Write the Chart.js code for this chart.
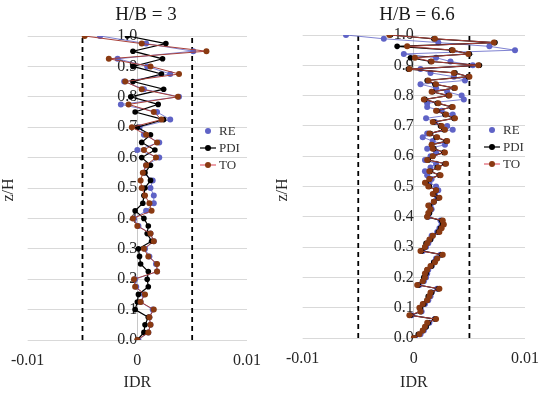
<!DOCTYPE html>
<html><head><meta charset="utf-8">
<script src="https://cdn.jsdelivr.net/npm/chart.js@4.4.1/dist/chart.umd.min.js"></script>
<style>
html,body{margin:0;padding:0;background:#fff;width:550px;height:395px;overflow:hidden}
canvas{position:absolute;top:0}
</style></head>
<body>
<canvas id="c1" width="275" height="395" style="left:0"></canvas>
<canvas id="c2" width="275" height="395" style="left:275px"></canvas>
<script>
const panelTitles = ['H/B = 3', 'H/B = 6.6'];
const seriesNames = ['RE', 'PDI', 'TO'];
const xTickLabels = ['-0.01', '0', '0.01'];
const yTickLabels = ['0.0','0.1','0.2','0.3','0.4','0.5','0.6','0.7','0.8','0.9','1.0'];
const xAxisTitle = 'IDR';
const yAxisTitle = 'z/H';
const limitLines = [-0.005, 0.005];

// H/B = 3 : storey levels z/H and IDR of each series
const zLeft = [0,0.025,0.05,0.075,0.1,0.125,0.15,0.175,0.2,0.225,0.25,0.275,0.3,0.325,0.35,0.375,0.4,0.425,0.45,0.475,0.5,0.525,0.55,0.575,0.6,0.625,0.65,0.675,0.7,0.725,0.75,0.775,0.8,0.825,0.85,0.875,0.9,0.925,0.95,0.975,1.0];
const reLeft = [0.0001,0.0010,0.0012,0.0011,0.0014,0.0003,0.0006,-0.0001,-0.0002,0.0018,0.0017,0.0011,0.0007,0.0015,0.0012,0.0001,-0.0003,0.0008,0.0015,0.0015,0.0012,0.0014,0.0006,0.0008,0.0020,0.0000,0.0020,0.0006,0.0002,0.0030,0.0018,-0.0015,0.0038,0.0006,-0.0012,0.0030,0.0009,-0.0018,0.0051,0.0008,-0.0034];
const pdiLeft = [0.0000,0.0006,0.0007,0.0010,-0.0002,0.0000,0.0001,0.0010,0.0009,0.0010,0.0003,0.0002,0.0001,0.0013,0.0009,0.0010,0.0006,-0.0002,0.0005,0.0006,0.0007,0.0012,0.0007,0.0012,0.0004,0.0016,0.0004,0.0012,0.0000,0.0024,-0.0002,0.0019,-0.0006,0.0024,-0.0004,0.0022,-0.0004,0.0023,-0.0004,0.0026,-0.0009];
const toLeft = [0.0000,0.0010,0.0012,0.0011,0.0015,0.0003,0.0007,-0.0002,-0.0003,0.0018,0.0018,0.0010,0.0006,0.0015,0.0012,0.0000,-0.0004,0.0013,0.0011,0.0007,0.0004,0.0003,0.0005,0.0008,0.0017,0.0006,0.0018,0.0008,-0.0005,0.0022,0.0015,-0.0008,0.0037,0.0004,-0.0011,0.0038,0.0012,-0.0026,0.0063,0.0004,-0.0048];

// H/B = 6.6
const zRight = [0,0.0125,0.025,0.0375,0.05,0.0625,0.075,0.0875,0.1,0.1125,0.125,0.1375,0.15,0.1625,0.175,0.1875,0.2,0.2125,0.225,0.2375,0.25,0.2625,0.275,0.2875,0.3,0.3125,0.325,0.3375,0.35,0.3625,0.375,0.3875,0.4,0.4125,0.425,0.4375,0.45,0.4625,0.475,0.4875,0.5,0.5125,0.525,0.5375,0.55,0.5625,0.575,0.5875,0.6,0.6125,0.625,0.6375,0.65,0.6625,0.675,0.6875,0.7,0.7125,0.725,0.7375,0.75,0.7625,0.775,0.7875,0.8,0.8125,0.825,0.8375,0.85,0.8625,0.875,0.8875,0.9,0.9125,0.925,0.9375,0.95,0.9625,0.975,0.9875,1.0];
const reRight = [0.0001,0.0006,0.0009,0.0011,0.0014,0.0019,-0.0002,0.0007,0.0006,0.0010,
 0.0013,0.0015,0.0016,0.0021,0.0005,0.0009,0.0011,0.0012,0.0013,0.0016,
 0.0018,0.0020,0.0024,0.0008,0.0011,0.0013,0.0015,0.0016,0.0021,0.0023,
 0.0025,0.0024,0.0013,0.0014,0.0016,0.0015,0.0018,0.0021,0.0019,0.0022,
 0.0020,0.0014,0.0016,0.0012,0.0010,0.0015,0.0020,0.0010,0.0015,0.0020,
 0.0012,0.0028,0.0017,0.0008,0.0012,0.0035,0.0030,0.0019,0.0011,0.0035,
 0.0025,0.0012,0.0012,0.0045,0.0043,0.0030,0.0020,0.0006,0.0046,0.0036,
 0.0015,0.0006,0.0053,0.0033,0.0020,-0.0009,0.0091,0.0068,0.0022,-0.0027,
 -0.0061];
const pdiRight = [0.0000,0.0004,0.0008,0.0011,0.0013,0.0019,-0.0003,0.0006,0.0006,0.0009,
 0.0012,0.0013,0.0016,0.0022,0.0004,0.0008,0.0009,0.0011,0.0012,0.0016,
 0.0018,0.0021,0.0025,0.0007,0.0010,0.0011,0.0015,0.0017,0.0022,0.0024,
 0.0026,0.0025,0.0012,0.0014,0.0015,0.0014,0.0018,0.0022,0.0018,0.0020,
 0.0014,0.0011,0.0014,0.0023,0.0015,0.0021,0.0028,0.0013,0.0017,0.0027,
 0.0018,0.0016,0.0029,0.0020,0.0015,0.0027,0.0024,0.0018,0.0036,0.0028,
 0.0021,0.0034,0.0021,0.0010,0.0031,0.0017,0.0036,0.0019,0.0012,0.0049,
 0.0037,-0.0005,0.0059,0.0015,-0.0003,0.0050,0.0034,-0.0015,0.0073,0.0018,
 -0.0021];
const toRight = [0.0000,0.0005,0.0008,0.0010,0.0012,0.0020,-0.0004,0.0006,0.0005,0.0008,
 0.0012,0.0014,0.0015,0.0023,0.0003,0.0008,0.0010,0.0010,0.0012,0.0015,
 0.0019,0.0021,0.0026,0.0006,0.0010,0.0012,0.0014,0.0017,0.0023,0.0025,
 0.0027,0.0026,0.0012,0.0013,0.0015,0.0013,0.0018,0.0023,0.0017,0.0020,
 0.0013,0.0010,0.0014,0.0024,0.0014,0.0022,0.0029,0.0012,0.0017,0.0028,
 0.0017,0.0016,0.0030,0.0021,0.0014,0.0028,0.0025,0.0017,0.0037,0.0029,
 0.0020,0.0035,0.0022,0.0009,0.0032,0.0016,0.0037,0.0020,0.0013,0.0050,
 0.0036,-0.0004,0.0058,0.0016,0.0001,0.0049,0.0035,-0.0006,0.0072,0.0019,
 -0.0022];

const FONT = '"Liberation Serif", "Times New Roman", serif';
const COL_RE = '#5f63c6', COL_PDI = '#000000', COL_TO_PT = '#8a3a12', COL_TO_LN = '#a8403a';

function pts(xs, zs) {
  const n = Math.min(xs.length, zs.length);
  const out = [];
  for (let i = 0; i < n; i++) out.push({x: xs[i], y: zs[i]});
  return out;
}

function annot(lay) {
  return {
    id: 'annot',
    afterDraw(chart) {
      const ctx = chart.ctx;
      ctx.save();
      ctx.fillStyle = '#1a1a1a';
      ctx.font = '19px ' + FONT;
      ctx.textAlign = 'center';
      ctx.textBaseline = 'middle';
      ctx.fillText(lay.title, lay.titleX, 15);
      ctx.save();
      ctx.translate(lay.zhX, 190);
      ctx.rotate(-Math.PI / 2);
      ctx.font = '16px ' + FONT;
      ctx.fillStyle = '#262626';
      ctx.fillText(yAxisTitle, 0, 0);
      ctx.restore();
      // legend
      const items = [
        {name: seriesNames[0], line: null, pt: COL_RE},
        {name: seriesNames[1], line: COL_PDI, pt: COL_PDI},
        {name: seriesNames[2], line: '#e0606e', pt: COL_TO_PT}
      ];
      ctx.font = '13px ' + FONT;
      ctx.textAlign = 'left';
      items.forEach((it, i) => {
        const y = lay.legY + i * 17;
        if (it.line) {
          ctx.strokeStyle = it.line; ctx.lineWidth = 1.2;
          ctx.beginPath(); ctx.moveTo(lay.legX, y); ctx.lineTo(lay.legX + 16, y); ctx.stroke();
        }
        ctx.fillStyle = it.pt;
        ctx.beginPath(); ctx.arc(lay.legX + 8, y, 3, 0, Math.PI * 2); ctx.fill();
        ctx.fillStyle = '#333333';
        ctx.fillText(it.name, lay.legX + 19, y + 1);
      });
      ctx.restore();
    }
  };
}

function makeChart(id, z, re, pdi, to, lay) {
  const datasets = [];
  limitLines.forEach(v => datasets.push({
    data: [{x: v, y: 0}, {x: v, y: 1}], showLine: true, borderColor: '#000', borderWidth: 1.8,
    borderDash: [5, 4], pointRadius: 0, order: 10
  }));
  datasets.push({data: pts(re, z), showLine: true, borderColor: 'rgba(95,99,198,0.8)', borderWidth: 1,
    pointRadius: 3, pointBackgroundColor: COL_RE, pointBorderWidth: 0, order: 3});
  datasets.push({data: pts(pdi, z), showLine: true, borderColor: COL_PDI, borderWidth: 1.2,
    pointRadius: 2.8, pointBackgroundColor: COL_PDI, pointBorderWidth: 0, order: 2});
  datasets.push({data: pts(to, z), showLine: true, borderColor: COL_TO_LN, borderWidth: 1,
    pointRadius: 3, pointBackgroundColor: COL_TO_PT, pointBorderWidth: 0, order: 1});

  return new Chart(document.getElementById(id), {
    type: 'scatter',
    data: {datasets},
    options: {
      responsive: false, animation: false, devicePixelRatio: 1,
      layout: {padding: {left: lay.left, right: lay.right, top: lay.top, bottom: 0}},
      plugins: {legend: {display: false}, tooltip: {enabled: false}, title: {display: false}},
      elements: {line: {tension: 0}},
      scales: {
        x: {
          type: 'linear', min: -0.01, max: 0.01,
          afterFit: s => { s.height = lay.xh; },
          ticks: {stepSize: 0.01, padding: 11, color: '#262626', font: {family: FONT, size: 16},
            callback: (v, i) => xTickLabels[i], maxRotation: 0},
          grid: {display: false, drawTicks: false},
          border: {display: false},
          title: {display: true, text: xAxisTitle, color: '#262626', font: {family: FONT, size: 16},
            padding: {top: 0, bottom: 3}}
        },
        y: {
          type: 'linear', min: 0, max: 1, position: {x: 0},
          ticks: {stepSize: 0.1, padding: 14, color: '#262626', font: {family: FONT, size: 16},
            callback: (v, i) => yTickLabels[i]},
          grid: {color: '#d9d9d9', lineWidth: 1, drawTicks: false},
          border: {display: true, color: '#c8c8c8', width: 1}
        }
      }
    },
    plugins: [annot(lay)]
  });
}

makeChart('c1', zLeft, reLeft, pdiLeft, toLeft,
  {left: 27, right: 28, top: 36, xh: 55, title: panelTitles[0], titleX: 146, zhX: 9, legX: 200, legY: 131});
makeChart('c2', zRight, reRight, pdiRight, toRight,
  {left: 24, right: 20, top: 35, xh: 57, title: panelTitles[1], titleX: 142, zhX: 8, legX: 209, legY: 130});
</script>
</body></html>
